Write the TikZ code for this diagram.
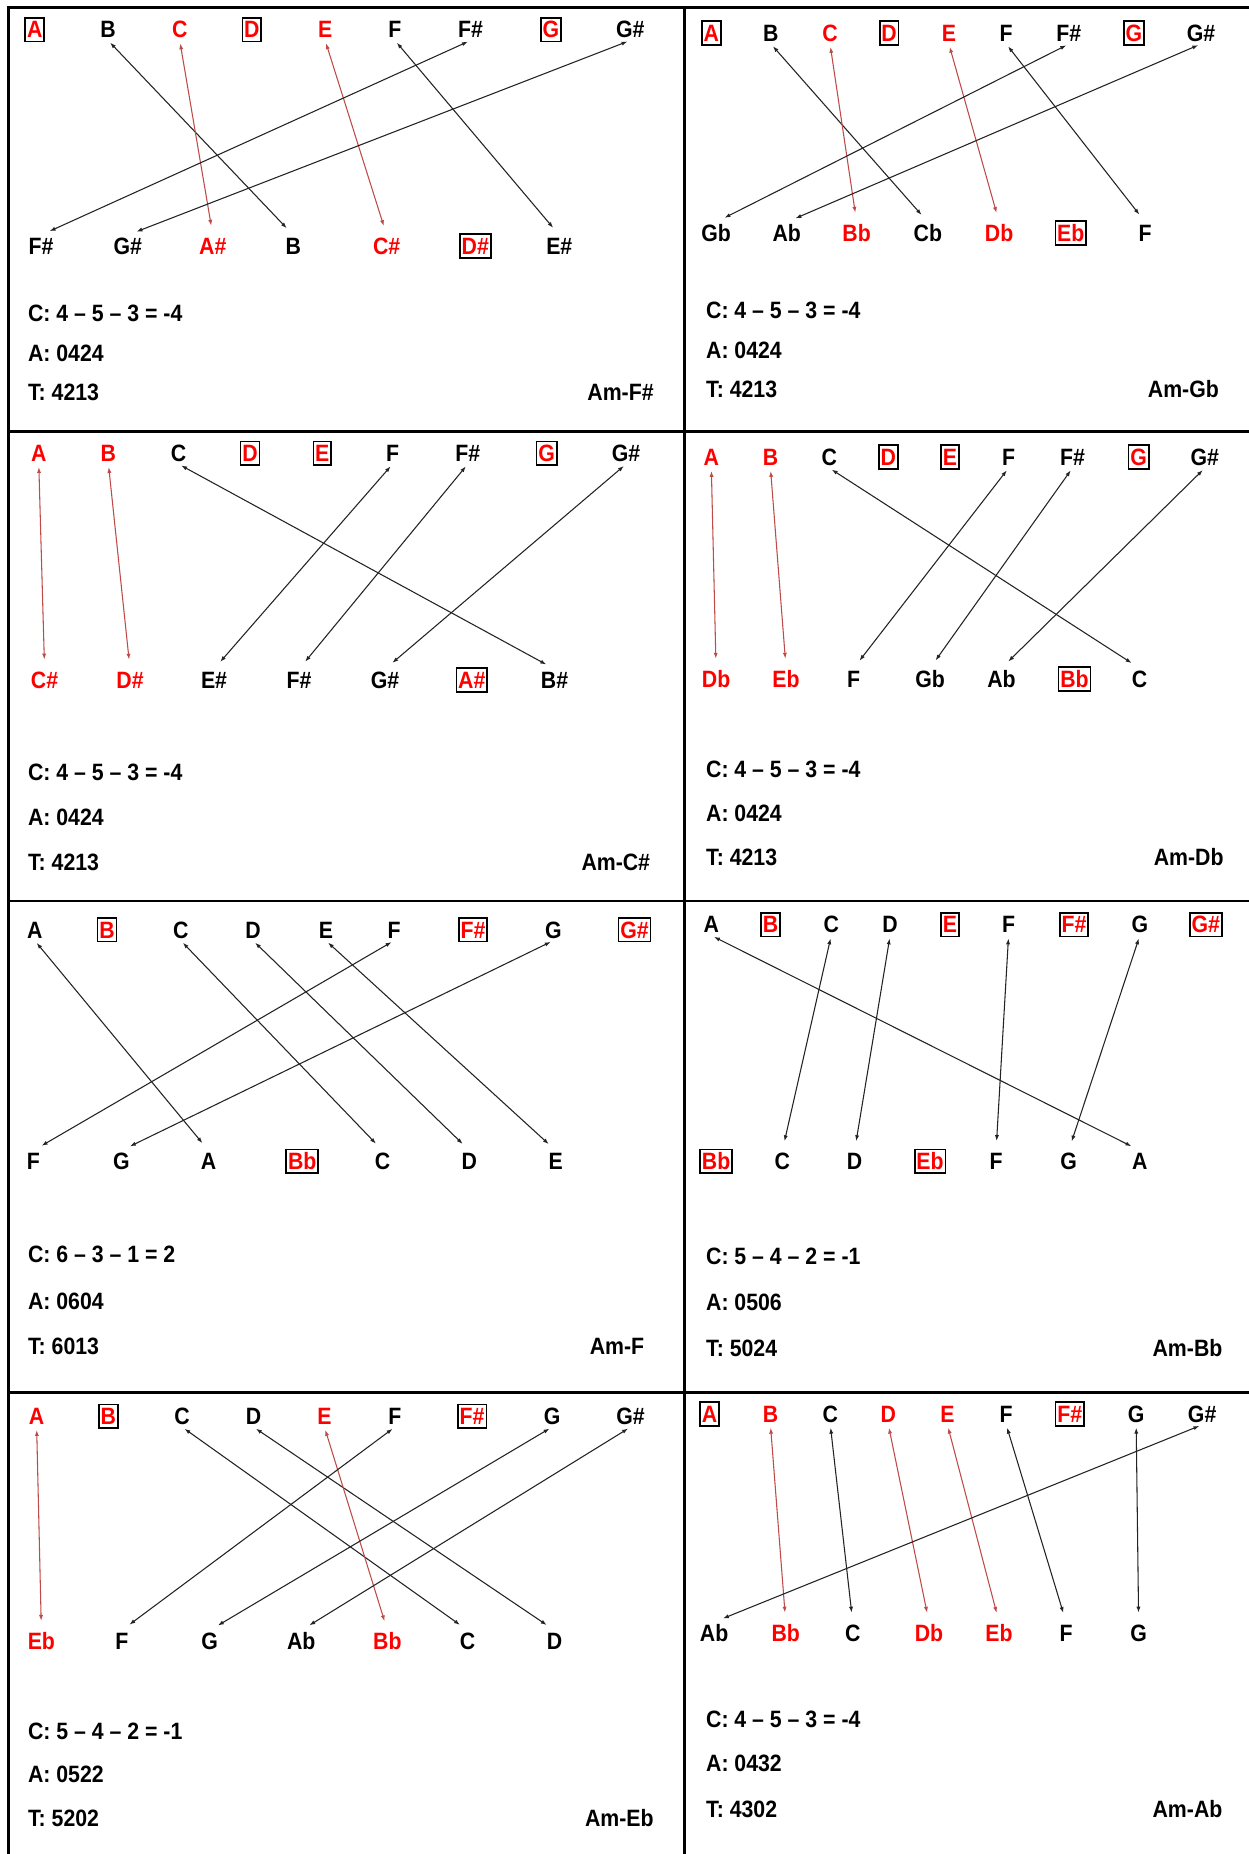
\documentclass[tikz,border=0pt]{standalone}
\usepackage{fontspec}
\setmainfont{Liberation Sans}[FakeStretch=0.9]
\usepackage{tikz}
\usetikzlibrary{arrows.meta}
\definecolor{NoteRed}{RGB}{255,0,0}
\definecolor{LinkRed}{RGB}{190,75,72}
\definecolor{LinkGray}{RGB}{35,35,35}

\begin{document}
\begin{tikzpicture}[x=1pt,y=-1pt,
  note/.style={font=\fontsize{20}{22}\selectfont\bfseries,inner sep=2pt,text height=14pt,text depth=0pt},
  rnote/.style={note,text=NoteRed},
  boxnote/.style={rnote,draw=black,line width=1.4pt,inner xsep=1.5pt,inner ysep=3pt},
  info/.style={font=\fontsize{20}{22}\selectfont\bfseries,anchor=west,inner sep=0pt,text height=14pt,text depth=0pt},
  key/.style={info,anchor=east},
  link/.style={draw=LinkGray,line width=0.9pt,>={Latex[length=5pt,width=3.5pt]},<->,shorten <=2.5pt,shorten >=8pt},
  rlink/.style={link,draw=LinkRed},
  frame/.style={line width=2.5pt}]
\useasboundingbox (0,0) rectangle (1056,1568);
\fill[white] (0,0) rectangle (1056,1568);
\draw[frame] (7.5,6) -- (7.5,1568);
\draw[frame] (6.25,6) -- (1056,6);
\draw[frame] (579,6) -- (579,1568);
\draw[frame] (6.25,365) -- (1056,365);
\draw[frame] (6.25,762) -- (1056,762);
\draw[frame] (6.25,1177.5) -- (1056,1177.5);

\node[boxnote] (fsT1) at (29.4,25) {A};
\node[note] (fsT2) at (91.4,25) {B};
\node[rnote] (fsT3) at (152,25) {C};
\node[boxnote] (fsT4) at (213,25) {D};
\node[rnote] (fsT5) at (275,25) {E};
\node[note] (fsT6) at (334,25) {F};
\node[note] (fsT7) at (398,25) {F\#};
\node[boxnote] (fsT8) at (466,25) {G};
\node[note] (fsT9) at (533,25) {G\#};
\node[note] (fsB1) at (34.7,208) {F\#};
\node[note] (fsB2) at (108,208) {G\#};
\node[rnote] (fsB3) at (180,208) {A\#};
\node[note] (fsB4) at (248,208) {B};
\node[rnote] (fsB5) at (327,208) {C\#};
\node[boxnote] (fsB6) at (402,208) {D\#};
\node[note] (fsB7) at (473,208) {E\#};
\draw[link] (fsT2.south) -- (fsB4.north);
\draw[rlink] (fsT3.south) -- (fsB3.north);
\draw[rlink] (fsT5.south) -- (fsB5.north);
\draw[link] (fsT6.south) -- (fsB7.north);
\draw[link] (fsT7.south) -- (fsB1.north);
\draw[link] (fsT9.south) -- (fsB2.north);
\node[info] (fsCl) at (23.5,265) {C: 4 – 5 – 3 = -4};
\node[info] (fsAl) at (23.5,299) {A: 0424};
\node[info] (fsTl) at (23.5,332) {T: 4213};
\node[key] (fsKey) at (553,332) {Am-F\#};

\node[boxnote] (gbT1) at (601.6,28) {A};
\node[note] (gbT2) at (652,28) {B};
\node[rnote] (gbT3) at (702,28) {C};
\node[boxnote] (gbT4) at (752,28) {D};
\node[rnote] (gbT5) at (802.5,28) {E};
\node[note] (gbT6) at (851,28) {F};
\node[note] (gbT7) at (904,28) {F\#};
\node[boxnote] (gbT8) at (959,28) {G};
\node[note] (gbT9) at (1015.7,28) {G\#};
\node[note] (gbB1) at (605.6,197) {Gb};
\node[note] (gbB2) at (665.4,197) {Ab};
\node[rnote] (gbB3) at (724.5,197) {Bb};
\node[note] (gbB4) at (784.7,197) {Cb};
\node[rnote] (gbB5) at (845,197) {Db};
\node[boxnote] (gbB6) at (905.6,197) {Eb};
\node[note] (gbB7) at (968.5,197) {F};
\draw[link] (gbT2.south) -- (gbB4.north);
\draw[rlink] (gbT3.south) -- (gbB3.north);
\draw[rlink] (gbT5.south) -- (gbB5.north);
\draw[link] (gbT6.south) -- (gbB7.north);
\draw[link] (gbT7.south) -- (gbB1.north);
\draw[link] (gbT9.south) -- (gbB2.north);
\node[info] (gbCl) at (597,262) {C: 4 – 5 – 3 = -4};
\node[info] (gbAl) at (597,296) {A: 0424};
\node[info] (gbTl) at (597,329) {T: 4213};
\node[key] (gbKey) at (1031,329) {Am-Gb};

\node[rnote] (csT1) at (32.8,383.3) {A};
\node[rnote] (csT2) at (91.7,383.3) {B};
\node[note] (csT3) at (151,383.3) {C};
\node[boxnote] (csT4) at (211.4,383.3) {D};
\node[boxnote] (csT5) at (272.5,383.3) {E};
\node[note] (csT6) at (332,383.3) {F};
\node[note] (csT7) at (395.6,383.3) {F\#};
\node[boxnote] (csT8) at (462.3,383.3) {G};
\node[note] (csT9) at (529.5,383.3) {G\#};
\node[rnote] (csB1) at (37.7,575) {C\#};
\node[rnote] (csB2) at (110,575) {D\#};
\node[note] (csB3) at (181,575) {E\#};
\node[note] (csB4) at (253,575) {F\#};
\node[note] (csB5) at (325.7,575) {G\#};
\node[boxnote] (csB6) at (399,575) {A\#};
\node[note] (csB7) at (469,575) {B\#};
\draw[rlink] (csT1.south) -- (csB1.north);
\draw[rlink] (csT2.south) -- (csB2.north);
\draw[link] (csT3.south) -- (csB7.north);
\draw[link] (csT6.south) -- (csB3.north);
\draw[link] (csT7.south) -- (csB4.north);
\draw[link] (csT9.south) -- (csB5.north);
\node[info] (csCl) at (23.5,653) {C: 4 – 5 – 3 = -4};
\node[info] (csAl) at (23.5,691) {A: 0424};
\node[info] (csTl) at (23.5,729) {T: 4213};
\node[key] (csKey) at (550,729) {Am-C\#};

\node[rnote] (dbT1) at (601.6,386.6) {A};
\node[rnote] (dbT2) at (651.6,386.6) {B};
\node[note] (dbT3) at (701.3,386.6) {C};
\node[boxnote] (dbT4) at (751.3,386.6) {D};
\node[boxnote] (dbT5) at (803.4,386.6) {E};
\node[note] (dbT6) at (853,386.6) {F};
\node[note] (dbT7) at (907,386.6) {F\#};
\node[boxnote] (dbT8) at (963,386.6) {G};
\node[note] (dbT9) at (1019,386.6) {G\#};
\node[rnote] (dbB1) at (605.6,574.3) {Db};
\node[rnote] (dbB2) at (664.8,574.3) {Eb};
\node[note] (dbB3) at (722,574.3) {F};
\node[note] (dbB4) at (786.6,574.3) {Gb};
\node[note] (dbB5) at (847,574.3) {Ab};
\node[boxnote] (dbB6) at (908.7,574.3) {Bb};
\node[note] (dbB7) at (963.8,574.3) {C};
\draw[rlink] (dbT1.south) -- (dbB1.north);
\draw[rlink] (dbT2.south) -- (dbB2.north);
\draw[link] (dbT3.south) -- (dbB7.north);
\draw[link] (dbT6.south) -- (dbB3.north);
\draw[link] (dbT7.south) -- (dbB4.north);
\draw[link] (dbT9.south) -- (dbB5.north);
\node[info] (dbCl) at (597,650.4) {C: 4 – 5 – 3 = -4};
\node[info] (dbAl) at (597,687.6) {A: 0424};
\node[info] (dbTl) at (597,724.8) {T: 4213};
\node[key] (dbKey) at (1035,724.8) {Am-Db};

\node[note] (fT1) at (29.4,786.3) {A};
\node[boxnote] (fT2) at (90.6,786.3) {B};
\node[note] (fT3) at (152.9,786.3) {C};
\node[note] (fT4) at (214,786.3) {D};
\node[note] (fT5) at (275.6,786.3) {E};
\node[note] (fT6) at (333.3,786.3) {F};
\node[boxnote] (fT7) at (400,786.3) {F\#};
\node[note] (fT8) at (468,786.3) {G};
\node[boxnote] (fT9) at (536.7,786.3) {G\#};
\node[note] (fB1) at (28.3,982.2) {F};
\node[note] (fB2) at (102.7,982.2) {G};
\node[note] (fB3) at (176.3,982.2) {A};
\node[boxnote] (fB4) at (255.6,982.2) {Bb};
\node[note] (fB5) at (323.5,982.2) {C};
\node[note] (fB6) at (397,982.2) {D};
\node[note] (fB7) at (470,982.2) {E};
\draw[link] (fT1.south) -- (fB3.north);
\draw[link] (fT3.south) -- (fB5.north);
\draw[link] (fT4.south) -- (fB6.north);
\draw[link] (fT5.south) -- (fB7.north);
\draw[link] (fT6.south) -- (fB1.north);
\draw[link] (fT8.south) -- (fB2.north);
\node[info] (fCl) at (23.5,1061) {C: 6 – 3 – 1 = 2};
\node[info] (fAl) at (23.5,1100.5) {A: 0604};
\node[info] (fTl) at (23.5,1138.5) {T: 6013};
\node[key] (fKey) at (545,1138.5) {Am-F};

\node[note] (bbT1) at (601.6,782) {A};
\node[boxnote] (bbT2) at (651.6,782) {B};
\node[note] (bbT3) at (703,782) {C};
\node[note] (bbT4) at (752.8,782) {D};
\node[boxnote] (bbT5) at (803.4,782) {E};
\node[note] (bbT6) at (853,782) {F};
\node[boxnote] (bbT7) at (908.4,782) {F\#};
\node[note] (bbT8) at (964,782) {G};
\node[boxnote] (bbT9) at (1019.8,782) {G\#};
\node[boxnote] (bbB1) at (605.6,982.2) {Bb};
\node[note] (bbB2) at (661.7,982.2) {C};
\node[note] (bbB3) at (722.8,982.2) {D};
\node[boxnote] (bbB4) at (786.6,982.2) {Eb};
\node[note] (bbB5) at (842.4,982.2) {F};
\node[note] (bbB6) at (903.8,982.2) {G};
\node[note] (bbB7) at (964,982.2) {A};
\draw[link] (bbT1.south) -- (bbB7.north);
\draw[link] (bbT3.south) -- (bbB2.north);
\draw[link] (bbT4.south) -- (bbB3.north);
\draw[link] (bbT6.south) -- (bbB5.north);
\draw[link] (bbT8.south) -- (bbB6.north);
\node[info] (bbCl) at (597,1062.5) {C: 5 – 4 – 2 = -1};
\node[info] (bbAl) at (597,1101) {A: 0506};
\node[info] (bbTl) at (597,1140) {T: 5024};
\node[key] (bbKey) at (1034,1140) {Am-Bb};

\node[rnote] (ebT1) at (31,1197.7) {A};
\node[boxnote] (ebT2) at (91.7,1197.7) {B};
\node[note] (ebT3) at (154,1197.7) {C};
\node[note] (ebT4) at (214.4,1197.7) {D};
\node[rnote] (ebT5) at (274.4,1197.7) {E};
\node[note] (ebT6) at (334,1197.7) {F};
\node[boxnote] (ebT7) at (399.3,1197.7) {F\#};
\node[note] (ebT8) at (466.9,1197.7) {G};
\node[note] (ebT9) at (533.3,1197.7) {G\#};
\node[rnote] (ebB1) at (35,1388) {Eb};
\node[note] (ebB2) at (103,1388) {F};
\node[note] (ebB3) at (177.4,1388) {G};
\node[note] (ebB4) at (254.8,1388) {Ab};
\node[rnote] (ebB5) at (327.6,1388) {Bb};
\node[note] (ebB6) at (395.5,1388) {C};
\node[note] (ebB7) at (469,1388) {D};
\draw[rlink] (ebT1.south) -- (ebB1.north);
\draw[link] (ebT3.south) -- (ebB6.north);
\draw[link] (ebT4.south) -- (ebB7.north);
\draw[rlink] (ebT5.south) -- (ebB5.north);
\draw[link] (ebT6.south) -- (ebB2.north);
\draw[link] (ebT8.south) -- (ebB3.north);
\draw[link] (ebT9.south) -- (ebB4.north);
\node[info] (ebCl) at (23.5,1464) {C: 5 – 4 – 2 = -1};
\node[info] (ebAl) at (23.5,1500.7) {A: 0522};
\node[info] (ebTl) at (23.5,1538) {T: 5202};
\node[key] (ebKey) at (553,1538) {Am-Eb};

\node[boxnote] (abT1) at (600,1195.8) {A};
\node[rnote] (abT2) at (651.6,1195.8) {B};
\node[note] (abT3) at (702.2,1195.8) {C};
\node[rnote] (abT4) at (751.3,1195.8) {D};
\node[rnote] (abT5) at (801.3,1195.8) {E};
\node[note] (abT6) at (851,1195.8) {F};
\node[boxnote] (abT7) at (904.7,1195.8) {F\#};
\node[note] (abT8) at (960.9,1195.8) {G};
\node[note] (abT9) at (1016.7,1195.8) {G\#};
\node[note] (abB1) at (604,1381) {Ab};
\node[rnote] (abB2) at (664.5,1381) {Bb};
\node[note] (abB3) at (721.2,1381) {C};
\node[rnote] (abB4) at (785.7,1381) {Db};
\node[rnote] (abB5) at (844.9,1381) {Eb};
\node[note] (abB6) at (901.6,1381) {F};
\node[note] (abB7) at (963,1381) {G};
\draw[rlink] (abT2.south) -- (abB2.north);
\draw[link] (abT3.south) -- (abB3.north);
\draw[rlink] (abT4.south) -- (abB4.north);
\draw[rlink] (abT5.south) -- (abB5.north);
\draw[link] (abT6.south) -- (abB6.north);
\draw[link] (abT8.south) -- (abB7.north);
\draw[link] (abT9.south) -- (abB1.north);
\node[info] (abCl) at (597,1454) {C: 4 – 5 – 3 = -4};
\node[info] (abAl) at (597,1491.4) {A: 0432};
\node[info] (abTl) at (597,1529.7) {T: 4302};
\node[key] (abKey) at (1034,1529.7) {Am-Ab};
\end{tikzpicture}
\end{document}
